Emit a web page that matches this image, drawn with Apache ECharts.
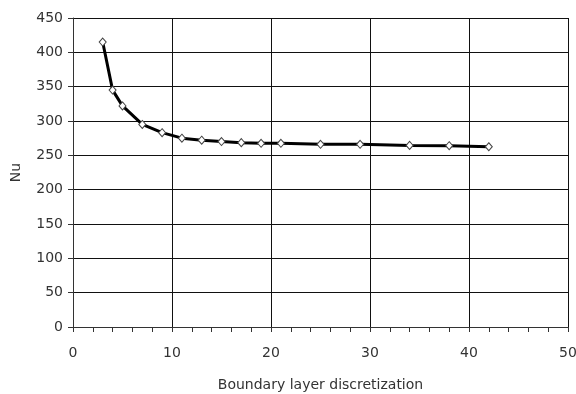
<!DOCTYPE html>
<html>
<head>
<meta charset="utf-8">
<script src="https://cdn.jsdelivr.net/npm/echarts@6/dist/echarts.min.js"></script>
<style>
  html, body { margin: 0; padding: 0; background: #fff; }
  #chart { width: 576px; height: 394px; }
</style>
</head>
<body>
<div id="chart"></div>
<script>
// boundary layer cells vs. Nusselt number
const cells = [3, 4, 5, 7, 9, 11, 13, 15, 17, 19, 21, 25, 29, 34, 38, 42];
const nu = [415, 345, 322, 295, 283, 275, 272, 270, 268.5, 267.5, 267.5, 266, 266, 264.5, 264, 262.5];

const xTitle = "Boundary layer discretization";
const yTitle = "Nu";

const chart = echarts.init(document.getElementById("chart"));

const font = "DejaVu Sans, sans-serif";

const option = {
  animation: false,
  backgroundColor: "#fff",
  grid: {
    left: 73,
    right: 8,
    top: 18,
    bottom: 67,
    containLabel: false,
    outerBoundsMode: "none"
  },
  xAxis: {
    type: "value",
    min: 0,
    max: 50,
    interval: 10,
    name: xTitle,
    nameLocation: "middle",
    nameGap: 51,
    nameTextStyle: { fontFamily: font, fontSize: 14, color: "#333" },
    axisLine: { show: true, lineStyle: { color: "#333", width: 1 } },
    axisTick: { show: true, length: 5, lineStyle: { color: "#333" } },
    minorTick: { show: true, splitNumber: 5, length: 5, lineStyle: { color: "#333" } },
    axisLabel: { fontFamily: font, fontSize: 14, color: "#333", margin: 19 },
    splitLine: { show: true, lineStyle: { color: "#111", width: 1 } }
  },
  yAxis: {
    type: "value",
    min: 0,
    max: 450,
    interval: 50,
    name: yTitle,
    nameLocation: "middle",
    nameGap: 50,
    nameTextStyle: { fontFamily: font, fontSize: 14, color: "#333" },
    axisLine: { show: true, lineStyle: { color: "#333", width: 1 } },
    axisTick: { show: true, length: 5, lineStyle: { color: "#333" } },
    axisLabel: { fontFamily: font, fontSize: 14, color: "#333", margin: 10 },
    splitLine: { show: true, lineStyle: { color: "#111", width: 1 } }
  },
  series: [
    {
      type: "line",
      data: cells.map((c, i) => [c, nu[i]]),
      symbol: "diamond",
      symbolSize: [7, 8],
      itemStyle: { color: "#fff", borderColor: "#444", borderWidth: 1 },
      lineStyle: { color: "#000", width: 3 },
      z: 3
    }
  ]
};

chart.setOption(option);
</script>
</body>
</html>
